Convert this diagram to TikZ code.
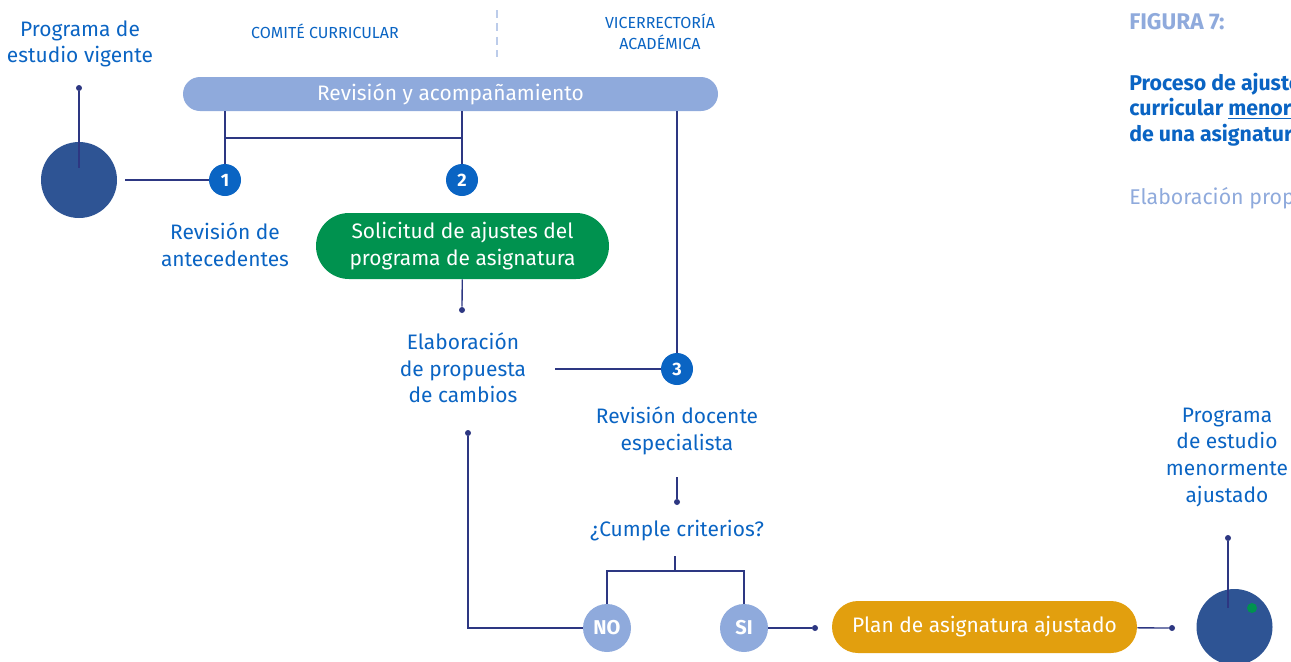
\documentclass[tikz,border=0pt]{standalone}
\usepackage{fontspec}
\setmainfont{Fira Sans}
\usetikzlibrary{positioning,calc}
\definecolor{fgBlue}{RGB}{10,100,195}
\definecolor{fgNavy}{RGB}{46,84,148}
\definecolor{fgLight}{RGB}{143,170,220}
\definecolor{fgGreen}{RGB}{0,146,79}
\definecolor{fgOrange}{RGB}{226,159,14}
\definecolor{fgLine}{RGB}{45,55,130}

\tikzset{
  lbl/.style={text=fgBlue, align=center, inner sep=0pt, font=\fontsize{15.7}{20}\selectfont},
  hdr/.style={text=fgBlue, align=center, inner sep=0pt, font=\fontsize{12}{15.5}\selectfont},
  stepnum/.style={circle, fill=fgBlue, text=white, minimum size=24pt, inner sep=0pt, font=\bfseries\fontsize{13.5}{13.5}\selectfont},
  answer/.style={circle, fill=fgLight, text=white, minimum size=36pt, inner sep=0pt, font=\bfseries\fontsize{15}{15}\selectfont},
  program/.style={circle, fill=fgNavy, minimum size=57pt, inner sep=0pt},
  pill/.style={text=white, align=center, inner sep=0pt, font=\fontsize{15.7}{20}\selectfont},
  link/.style={fgLine, line width=1pt},
  dot/.style={circle, fill=fgLine, minimum size=4.5pt, inner sep=0pt},
}

\begin{document}
\begin{tikzpicture}[x=0.75pt, y=-0.75pt]
  \useasboundingbox (0,0) rectangle (1291,661);

  % Column headers
  \node[hdr] (hcomite) at (325,31) {COMITÉ CURRICULAR};
  \node[hdr] (hvice) at (660,32) {VICERRECTORÍA\\ACADÉMICA};
  \draw[fgLight!60, line width=0.8pt, dash pattern=on 6pt off 4pt] (497,10) -- (497,57);

  % Starting program
  \node[lbl] (start) at (80,44) {Programa de\\estudio vigente};
  \node[program] (src) at (79,180) {};
  \node[dot] (d0) at (79,88) {};
  \draw[link] (d0) -- ($(src.center)+(0,-12)$);

  % Review bar
  \node[pill, fill=fgLight, rounded corners=12.75pt, minimum width=401.25pt, minimum height=25.5pt]
    (bar) at (450.5,94) {Revisión y acompañamiento};

  % Steps 1 and 2
  \node[stepnum] (n1) at (225,180) {1};
  \node[stepnum] (n2) at (462,180) {2};
  \coordinate (j1) at (225,138);
  \coordinate (j2) at (462,138);
  \draw[link] (n1 |- bar.south) -- (n1);
  \draw[link] (n2 |- bar.south) -- (n2);
  \draw[link] (j1) -- (j2);
  \draw[link] ($(src.east)+(8,0)$) -- (n1);
  \node[lbl] (antec) at (225,245) {Revisión de\\antecedentes};

  % Request
  \node[pill, fill=fgGreen, rounded corners=24.75pt, minimum width=219.75pt, minimum height=49.5pt]
    (req) at (462.5,246) {Solicitud de ajustes del\\programa de asignatura};
  \node[dot] (d1) at (462,310) {};
  \draw[link] (req) -- (d1);
  \node[lbl] (prop) at (463,368) {Elaboración\\de propuesta\\de cambios};

  % Step 3
  \node[stepnum] (n3) at (677,369) {3};
  \coordinate (p3) at (555,369);
  \draw[link] (n3 |- bar.south) -- (n3);
  \draw[link] (p3) -- (n3);
  \node[lbl] (docente) at (677,431) {Revisión docente\\especialista};
  \coordinate (r3) at (677,477);
  \node[dot] (d2) at (677,502) {};
  \draw[link] (r3) -- (d2);
  \node[lbl] (crit) at (677,531) {¿Cumple criterios?};

  % Decision
  \node[answer] (no) at (607,628) {NO};
  \node[answer] (si) at (744,628) {SI};
  \coordinate (c0) at (675,556);
  \coordinate (fork) at (675,571);
  \draw[link] (c0) -- (fork);
  \draw[link] (no) |- (fork) -| (si);
  \node[dot] (d3) at (468,433) {};
  \draw[link] (no) -| (d3);
  \node[dot] (d4) at (815,628) {};
  \draw[link] (si) -- (d4);

  % Adjusted plan
  \node[pill, fill=fgOrange, rounded corners=19.5pt, minimum width=228.75pt, minimum height=39pt]
    (plan) at (984.5,627) {Plan de asignatura ajustado};
  \node[dot] (d5) at (1172,628) {};
  \draw[link] (plan) -- (d5);
  \node[program] (dst) at (1234.5,627) {};
  \fill[fgGreen] (1252,608) circle (5);
  \node[dot] (d6) at (1228,538) {};
  \draw[link] (d6) -- (1228,608);
  \node[lbl] (final) at (1227,457) {Programa\\de estudio\\menormente\\ajustado};

  % Caption (runs past the right edge, as in the page it was cut from)
  \node[anchor=north west, inner sep=0pt, text=fgLight, font=\bfseries\fontsize{17}{17}\selectfont]
    (fig) at (1129,13) {FIGURA 7:};
  \node[anchor=north west, inner sep=0pt, align=left, text=fgBlue, font=\bfseries\fontsize{16}{19}\selectfont]
    (title) at (1129,73) {Proceso de ajuste\\curricular \underline{menor}\\de una asignatura};
  \node[anchor=north west, inner sep=0pt, text=fgLight, font=\fontsize{16}{19}\selectfont]
    (src2) at (1129,187) {Elaboración propia};
\end{tikzpicture}
\end{document}
